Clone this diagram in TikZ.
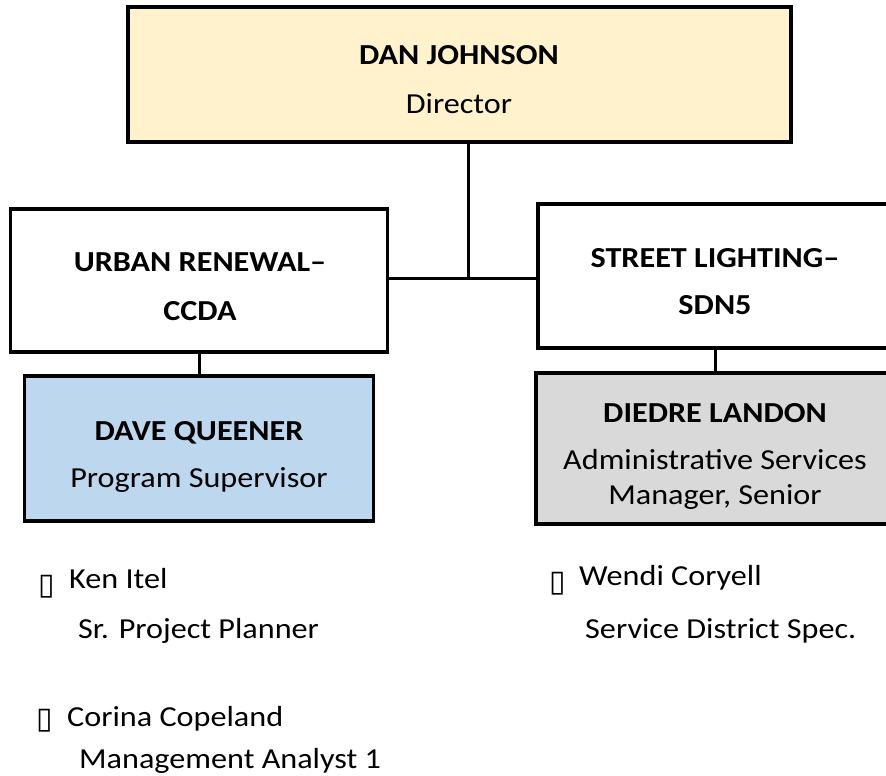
\documentclass[tikz,border=0pt]{standalone}
\usepackage{fontspec}
\setmainfont[FakeStretch=1.11]{Carlito}
\newfontfamily\symfont{DejaVu Sans}
\definecolor{dirfill}{HTML}{FFF2CC}
\definecolor{bluefill}{HTML}{BDD7EE}
\definecolor{grayfill}{HTML}{D9D9D9}
\begin{document}
\begin{tikzpicture}[x=1pt,y=-1pt,
  box/.style={draw=black,line width=3.5pt,inner sep=0pt},
  conn/.style={draw=black,line width=3pt},
  ttl/.style={anchor=base,inner sep=0pt,font=\fontsize{29}{33}\selectfont\bfseries},
  sub/.style={anchor=base,inner sep=0pt,font=\fontsize{29}{33}\selectfont},
  item/.style={anchor=base west,inner sep=0pt,font=\fontsize{29}{33}\selectfont},
  bul/.style={anchor=base west,inner sep=0pt,font=\fontsize{30}{34}\symfont}
]
\clip (0,0) rectangle (886,776);
\useasboundingbox (0,0) rectangle (886,776);
\fill[white] (0,0) rectangle (886,776);
% boxes
\node[box,fill=dirfill,minimum width=663pt,minimum height=135pt] (top) at (459.5,74.5) {};
\node[box,fill=white,minimum width=377pt,minimum height=143pt] (urban) at (199,280.5) {};
\node[box,fill=white,minimum width=354pt,minimum height=144pt] (street) at (715,276) {};
\node[box,fill=bluefill,minimum width=349pt,minimum height=145pt] (dave) at (199,448.5) {};
\node[box,fill=grayfill,minimum width=358pt,minimum height=151pt] (diedre) at (715,448.5) {};
% connectors
\coordinate (j) at (468,278);
\draw[conn] (j |- top.south) -- (j);
\draw[conn] (j -| urban.east) -- (j -| street.west);
\draw[conn] (urban.south) -- (dave.north);
\draw[conn] (street.south) -- (diedre.north);
% box texts
\node[ttl] (t1) at (459,65) {DAN JOHNSON};
\node[sub] (t2) at (459,113) {Director};
\node[ttl] (u1) at (200,271) {URBAN RENEWAL–};
\node[ttl] (u2) at (200,320) {CCDA};
\node[ttl] (s1) at (715,267) {STREET LIGHTING–};
\node[ttl] (s2) at (715,314) {SDN5};
\node[ttl] (d1) at (199,440) {DAVE QUEENER};
\node[sub] (d2) at (199,487) {Program Supervisor};
\node[ttl] (e1) at (715,422) {DIEDRE LANDON};
\node[sub] (e2) at (715,469) {Administrative Services};
\node[sub] (e3) at (715,504) {Manager, Senior};
% staff
\node[bul] (b1) at (38,594) {▯};
\node[item] (k1) at (69,588) {Ken Itel};
\node[item] (k2) at (78,638) {Sr. Project Planner};
\node[bul] (b2) at (36,728) {▯};
\node[item] (c1) at (67,726) {Corina Copeland};
\node[item] (c2) at (79,768) {Management Analyst 1};
\node[bul] (b3) at (549,591) {▯};
\node[item] (w1) at (579,585) {Wendi Coryell};
\node[item] (w2) at (585,638) {Service District Spec.};
\end{tikzpicture}
\end{document}
